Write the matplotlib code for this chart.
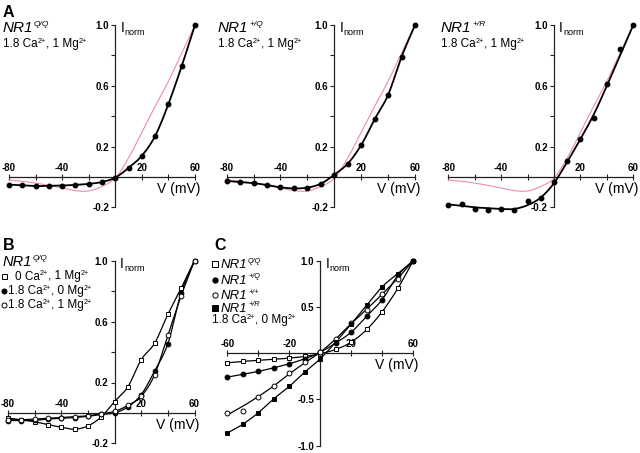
import numpy as np
import matplotlib
matplotlib.use('Agg')
import matplotlib.pyplot as plt

plt.rcParams['font.family'] = ['Liberation Sans', 'DejaVu Sans']
NARROW = ['Liberation Sans Narrow', 'Liberation Sans', 'DejaVu Sans']
REG = ['Liberation Sans', 'DejaVu Sans']

# ---------------- data ----------------
V_A = [-80, -70, -60, -50, -40, -30, -20, -10, 0, 10, 20, 30, 40, 50, 60]
a_qq = [-0.05, -0.055, -0.06, -0.058, -0.056, -0.052, -0.045, -0.033, -0.004, 0.06, 0.14, 0.27, 0.48, 0.73, 1.0]
a_pq = [-0.026, -0.033, -0.04, -0.053, -0.068, -0.075, -0.07, -0.044, 0.015, 0.088, 0.21, 0.38, 0.54, 0.79, 1.0]
a_pr = [-0.186, -0.178, -0.208, -0.215, -0.208, -0.219, -0.158, -0.138, -0.035, 0.105, 0.25, 0.39, 0.61, 0.84, 1.0]
a_pr_fit = [-0.18, -0.19, -0.2, -0.205, -0.21, -0.21, -0.185, -0.135, -0.04, 0.1, 0.25, 0.41, 0.6, 0.8, 1.0]
a_wt_ref = [-0.02, -0.028, -0.04, -0.055, -0.072, -0.09, -0.092, -0.062, -0.008, 0.125, 0.295, 0.465, 0.63, 0.815, 1.0]

V_B = [-80, -70, -60, -50, -40, -30, -20, -10, 0, 10, 20, 30, 40, 50, 60]
b_0ca_1mg = [-0.033, -0.045, -0.058, -0.077, -0.094, -0.107, -0.085, -0.026, 0.075, 0.172, 0.35, 0.457, 0.647, 0.82, 1.0]
b_18ca_0mg = [-0.05, -0.05, -0.048, -0.04, -0.035, -0.03, -0.022, -0.01, 0.0, 0.04, 0.12, 0.275, 0.455, 0.79, 1.0]
b_18ca_1mg = [-0.045, -0.045, -0.04, -0.035, -0.03, -0.025, -0.018, -0.005, 0.01, 0.05, 0.11, 0.25, 0.51, 0.77, 1.0]

V_C = [-60, -50, -40, -30, -20, -10, 0, 10, 20, 30, 40, 50, 60]
c_qq = [-0.105, -0.09, -0.079, -0.068, -0.054, -0.036, -0.007, 0.04, 0.119, 0.256, 0.45, 0.70, 1.0]
c_pq = [-0.26, -0.23, -0.198, -0.159, -0.115, -0.061, 0.01, 0.11, 0.227, 0.40, 0.58, 0.84, 1.0]
c_wt = [-0.65, -0.627, -0.476, -0.36, -0.213, -0.097, 0.01, 0.155, 0.324, 0.47, 0.64, 0.80, 1.0]
c_wt_fit = [-0.67, -0.575, -0.47, -0.355, -0.225, -0.105, 0.01, 0.155, 0.32, 0.475, 0.64, 0.81, 1.0]
c_pr = [-0.865, -0.77, -0.645, -0.494, -0.36, -0.205, -0.061, 0.12, 0.317, 0.52, 0.72, 0.86, 1.0]

xt_A = [-80, -60, -40, -20, 20, 40, 60]
xl_A = ['-80', '', '-40', '', '20', '', '60']
yt_A = [-0.2, 0.2, 0.4, 0.6, 0.8, 1.0]
yl_A = ['-0.2', '0.2', '', '0.6', '', '1.0']
xt_C = [-60, -40, -20, 20, 40, 60]
xl_C = ['-60', '', '-20', '20', '', '60']
yt_C = [-1.0, -0.5, 0.5, 1.0]
yl_C = ['-1.0', '-0.5', '0.5', '1.0']


def smooth(x, y, n=20):
    P = np.column_stack([np.asarray(x, float), np.asarray(y, float)])
    P = np.vstack([2 * P[0] - P[1], P, 2 * P[-1] - P[-2]])
    t = np.linspace(0, 1, n, endpoint=False)[:, None]
    out = []
    for i in range(1, len(P) - 2):
        p0, p1, p2, p3 = P[i - 1], P[i], P[i + 1], P[i + 2]
        out.append(0.5 * (2 * p1 + (-p0 + p2) * t + (2 * p0 - 5 * p1 + 4 * p2 - p3) * t ** 2
                          + (-p0 + 3 * p1 - 3 * p2 + p3) * t ** 3))
    out.append(P[-2][None, :])
    out = np.vstack(out)
    return out[:, 0], out[:, 1]


def rich(ax, xy, parts, coords='data', **kw):
    """parts: (text, fontsize, dx_px, dy_px); chained left to right on one baseline."""
    prev = None
    for txt, fs, dx, dy in parts:
        if prev is None:
            a = ax.annotate(txt, xy, xycoords=coords, xytext=(dx, dy), textcoords='offset pixels',
                            fontsize=fs, ha='left', va='baseline', annotation_clip=False, **kw)
        else:
            a = ax.annotate(txt, (1, xy[1]), xycoords=(prev, coords), xytext=(dx, dy),
                            textcoords='offset pixels', fontsize=fs, ha='left', va='baseline',
                            annotation_clip=False, **kw)
        prev = a
    return prev


W, H = 640, 453
fig = plt.figure(figsize=(6.4, 4.53), dpi=100)


def mkax(x0, x1, ytop, ybot):
    return fig.add_axes([x0 / W, 1 - ybot / H, (x1 - x0) / W, (ybot - ytop) / H])


def setup(ax, xlim, ylim, xt, xl, yt, yl):
    ax.set_xlim(xlim)
    ax.set_ylim(ylim)
    ax.patch.set_visible(False)
    for s in ['top', 'right']:
        ax.spines[s].set_visible(False)
    for s in ['left', 'bottom']:
        ax.spines[s].set_position(('data', 0))
        ax.spines[s].set_linewidth(0.9)
        ax.spines[s].set_color('#222222')
    ax.set_xticks(xt)
    ax.set_xticklabels([])
    for v, lab in zip(xt, xl):
        if lab:
            ax.annotate(lab, (v, 0), xytext=(0, 4), textcoords='offset pixels',
                        ha='center', va='bottom', fontsize=7, fontweight='bold',
                        family=NARROW, annotation_clip=False)
    ax.set_yticks(yt)
    ax.set_yticklabels(yl, fontsize=7, fontweight='bold', family=NARROW)
    ax.tick_params(axis='x', direction='inout', length=4, width=0.8, color='#222222')
    ax.tick_params(axis='y', direction='out', length=3, width=0.8, pad=1.5, color='#222222')
    rich(ax, (0, ylim[1]), [('I', 10, 5, -7), ('norm', 6.5, 0.5, -10)], family=NARROW)
    ax.annotate('V (mV)', (xlim[1], 0), xytext=(5, -16), textcoords='offset pixels',
                ha='right', va='baseline', fontsize=10, family=NARROW, annotation_clip=False)


red = '#ec8fa2'
# ---- Panel A ----
axA1 = mkax(9, 195, 25, 207.4)
axA2 = mkax(226.7, 415, 25, 207.4)
axA3 = mkax(448.3, 633.3, 25, 207.4)
for ax, pts, fit in [(axA1, a_qq, a_qq), (axA2, a_pq, a_pq), (axA3, a_pr, a_pr_fit)]:
    setup(ax, (-80, 60), (-0.2, 1.0), xt_A, xl_A, yt_A, yl_A)
    rx, ry = smooth(V_A, a_wt_ref)
    ax.plot(rx, ry, color=red, lw=0.8, clip_on=False, zorder=2)
    fx, fy = smooth(V_A, fit)
    ax.plot(fx, fy, color='black', lw=1.3, clip_on=False, zorder=3)
    ax.plot(V_A, pts, 'o', color='black', ms=3.2, clip_on=False, zorder=4)

# ---- Panel B ----
axB = mkax(8, 194.5, 260.7, 443.4)
setup(axB, (-80, 60), (-0.2, 1.0), xt_A, xl_A, yt_A, yl_A)
for ys, mk, fc in [(b_0ca_1mg, 's', 'white'), (b_18ca_0mg, 'o', 'black'), (b_18ca_1mg, 'o', 'white')]:
    fx, fy = smooth(V_B, ys)
    axB.plot(fx, fy, color='black', lw=0.9, clip_on=False, zorder=2)
    axB.plot(V_B, ys, mk, mfc=fc, mec='black', mew=0.7, ms=3.4, clip_on=False, zorder=3)

# ---- Panel C ----
axC = mkax(227.3, 413.3, 260.7, 445.5)
setup(axC, (-60, 60), (-1.0, 1.0), xt_C, xl_C, yt_C, yl_C)
for ys, fit, mk, fc in [(c_qq, c_qq, 's', 'white'), (c_pq, c_pq, 'o', 'black'),
                        (c_wt, c_wt_fit, 'o', 'white'), (c_pr, c_pr, 's', 'black')]:
    fx, fy = smooth(V_C, fit)
    axC.plot(fx, fy, color='black', lw=0.9, clip_on=False, zorder=2)
    axC.plot(V_C, ys, mk, mfc=fc, mec='black', mew=0.7, ms=3.5, clip_on=False, zorder=3)

# ---- overlay text ----
ov = fig.add_axes([0, 0, 1, 1])
ov.set_xlim(0, W)
ov.set_ylim(H, 0)
ov.axis('off')

for x, y, L in [(3, 17, 'A'), (3, 250, 'B'), (214, 250, 'C')]:
    ov.text(x, y, L, fontsize=11.5, fontweight='bold', va='baseline', family=REG)


def geno_text(x, y, geno, fs):
    rich(ov, (x, y), [('NR1', fs, 0, 0), (geno, fs * 0.55, 0.5, 0.55 * fs)],
         family=REG, style='italic')


def cond_text(x, y, ca, mg, fs=8.5):
    sup = fs * 0.6
    rich(ov, (x, y), [(ca + ' Ca', fs, 0, 0), ('2+', sup, 0, 0.5 * fs),
                      (', ' + mg + ' Mg', fs, 0, 0), ('2+', sup, 0, 0.5 * fs)],
         family=NARROW)


for x, geno in [(3, 'Q/Q'), (218, '+/Q'), (441, '+/R')]:
    geno_text(x, 32, geno, 11)
    cond_text(x, 47, '1.8', '1')

geno_text(3, 266, 'Q/Q', 10.5)
b_rows = [(279.5, 's', 'white', 15, '0', '1'),
          (294, 'o', 'black', 8, '1.8', '0'),
          (308, 'o', 'white', 8, '1.8', '1')]
for y, mk, fc, tx, ca, mg in b_rows:
    ov.plot([4], [y - 3.5], mk, mfc=fc, mec='black', mew=0.7, ms=3.6)
    cond_text(tx, y, ca, mg)

c_rows = [(268, 's', 'white', 'Q/Q'), (283.5, 'o', 'black', '+/Q'),
          (299, 'o', 'white', '+/+'), (311.5, 's', 'black', '+/R')]
for y, mk, fc, geno in c_rows:
    ov.plot([215], [y - 4], mk, mfc=fc, mec='black', mew=0.7, ms=3.8)
    geno_text(221, y, geno, 9.5)
cond_text(212, 323, '1.8', '0')

fig.savefig('out.png', dpi=100)
